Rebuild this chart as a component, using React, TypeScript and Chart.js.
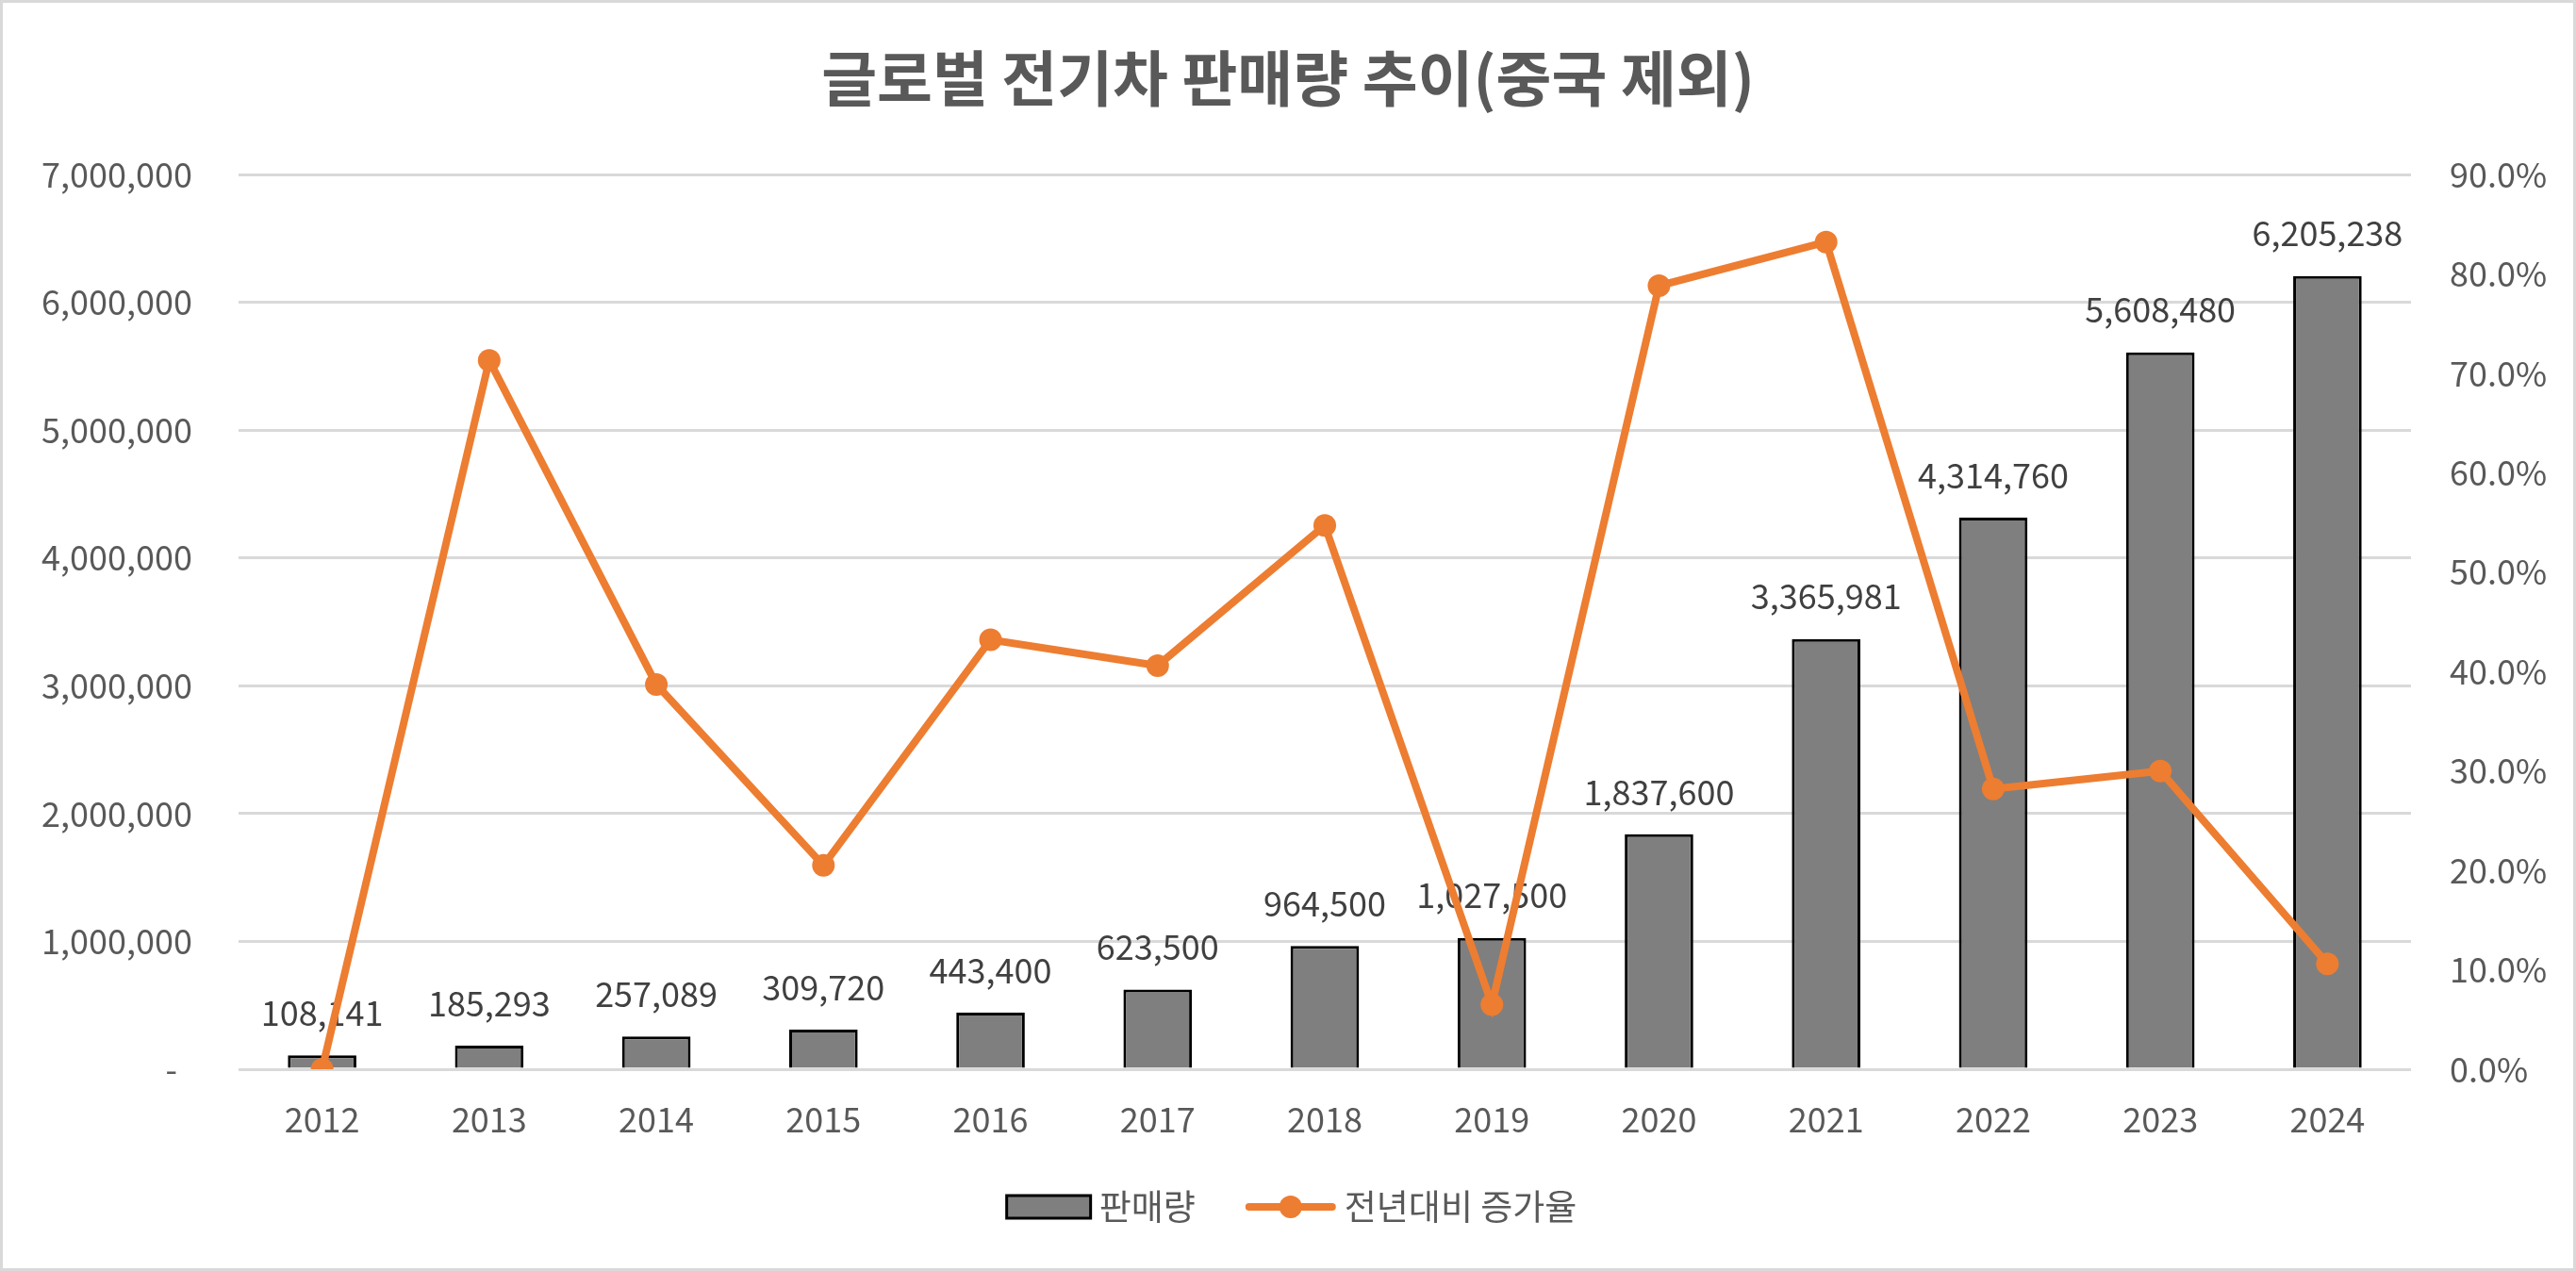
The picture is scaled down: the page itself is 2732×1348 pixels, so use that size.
import React, { useEffect, useRef } from "react";
import { Chart, registerables } from "chart.js";

Chart.register(...registerables);

const TITLE = "글로벌 전기차 판매량 추이(중국 제외)";
const YEARS = ["2012", "2013", "2014", "2015", "2016", "2017", "2018", "2019", "2020", "2021", "2022", "2023", "2024"];
const SALES = [108141, 185293, 257089, 309720, 443400, 623500, 964500, 1027500, 1837600, 3365981, 4314760, 5608480, 6205238];
const GROWTH = [0.0, 0.713, 0.387, 0.205, 0.432, 0.406, 0.547, 0.065, 0.788, 0.832, 0.282, 0.3, 0.106];
const SALES_LABEL = "판매량";
const GROWTH_LABEL = "전년대비 증가율";
const LEFT_MAX = 7000000;
const LEFT_STEP = 1000000;
const RIGHT_MAX = 0.9;
const RIGHT_STEP = 0.1;

const FONT = "'Noto Sans CJK KR', 'Noto Sans', sans-serif";
const TEXT = "#595959";
const LABEL_TEXT = "#404040";
const BAR_FILL = "#7f7f7f";
const ORANGE = "#ED7D31";
const GRID = "#d9d9d9";

const titlePlugin = {
  id: "customTitle",
  afterDraw(chart: any) {
    const ctx = chart.ctx;
    ctx.save();
    ctx.font = `bold 64px ${FONT}`;
    ctx.fillStyle = TEXT;
    ctx.textAlign = "center";
    ctx.textBaseline = "middle";
    ctx.fillText(TITLE, chart.width / 2, 80);
    ctx.restore();
  },
};

const dataLabelPlugin = {
  id: "barLabels",
  afterDatasetDraw(chart: any, args: any) {
    if (args.index !== 0) return;
    const ctx = chart.ctx;
    const values = chart.data.datasets[0].data as number[];
    ctx.save();
    ctx.font = `36px ${FONT}`;
    ctx.fillStyle = LABEL_TEXT;
    ctx.textAlign = "center";
    ctx.textBaseline = "middle";
    args.meta.data.forEach((bar: any, i: number) => {
      ctx.fillText(values[i].toLocaleString("en-US"), bar.x, bar.y - 45);
    });
    ctx.restore();
  },
};

const legendPlugin = {
  id: "customLegend",
  afterDraw(chart: any) {
    const ctx = chart.ctx;
    const ds = chart.data.datasets;
    const cy = 1277;
    ctx.save();
    ctx.font = `37px ${FONT}`;
    const boxW = 89;
    const boxH = 24;
    const lineW = 96;
    const gapText = 9;
    const gapItems = 53;
    const t1 = ctx.measureText(ds[0].label).width;
    const t2 = ctx.measureText(ds[1].label).width;
    const total = boxW + gapText + t1 + gapItems + lineW + gapText + t2;
    let x = chart.width / 2 - total / 2 + 4;
    // bar item
    ctx.fillStyle = BAR_FILL;
    ctx.fillRect(x, cy - boxH / 2, boxW, boxH);
    ctx.strokeStyle = "#000";
    ctx.lineWidth = 3;
    ctx.strokeRect(x, cy - boxH / 2, boxW, boxH);
    x += boxW + gapText;
    ctx.fillStyle = TEXT;
    ctx.textAlign = "left";
    ctx.textBaseline = "middle";
    ctx.fillText(ds[0].label, x, cy);
    x += t1 + gapItems;
    // line item
    ctx.strokeStyle = ORANGE;
    ctx.lineWidth = 8;
    ctx.lineCap = "round";
    ctx.beginPath();
    ctx.moveTo(x + 4, cy);
    ctx.lineTo(x + lineW - 4, cy);
    ctx.stroke();
    ctx.fillStyle = ORANGE;
    ctx.beginPath();
    ctx.arc(x + lineW / 2, cy, 12, 0, Math.PI * 2);
    ctx.fill();
    x += lineW + gapText;
    ctx.fillStyle = TEXT;
    ctx.fillText(ds[1].label, x, cy);
    ctx.restore();
  },
};

function ChartView() {
  const canvasRef = useRef<HTMLCanvasElement | null>(null);

  useEffect(() => {
    const canvas = canvasRef.current;
    if (!canvas) return;
    const chart = new Chart(canvas, {
      type: "bar",
      data: {
        labels: YEARS,
        datasets: [
          {
            type: "bar",
            label: SALES_LABEL,
            data: SALES,
            backgroundColor: BAR_FILL,
            borderColor: "#000000",
            borderWidth: 3,
            barPercentage: 0.41,
            categoryPercentage: 1,
            yAxisID: "y",
            order: 1,
          } as any,
          {
            type: "line",
            label: GROWTH_LABEL,
            data: GROWTH,
            borderColor: ORANGE,
            backgroundColor: ORANGE,
            borderWidth: 8,
            pointRadius: 12,
            pointBorderWidth: 0,
            pointBackgroundColor: ORANGE,
            tension: 0,
            yAxisID: "y1",
            order: 0,
          } as any,
        ],
      },
      options: {
        animation: false,
        responsive: true,
        maintainAspectRatio: false,
        layout: { padding: { top: 182, left: 0, right: 0, bottom: 0 } },
        plugins: {
          legend: { display: false },
          title: { display: false },
          tooltip: { enabled: false },
        },
        scales: {
          x: {
            type: "category",
            offset: true,
            grid: { display: false, drawTicks: false },
            border: { display: false },
            ticks: {
              color: TEXT,
              font: { family: FONT, size: 36 },
              padding: 32,
              maxRotation: 0,
            },
            afterFit(scale: any) {
              scale.height = 211;
            },
          },
          y: {
            type: "linear",
            position: "left",
            min: 0,
            max: LEFT_MAX,
            grid: { color: GRID, lineWidth: 3, drawTicks: false },
            border: { display: false },
            ticks: {
              stepSize: LEFT_STEP,
              color: TEXT,
              font: { family: FONT, size: 36 },
              padding: 49,
              callback: (v: any) => (Number(v) === 0 ? "-  " : Number(v).toLocaleString("en-US")),
            },
            afterFit(scale: any) {
              scale.width = 250;
            },
          },
          y1: {
            type: "linear",
            position: "right",
            min: 0,
            max: RIGHT_MAX,
            grid: { display: false, drawTicks: false },
            border: { display: false },
            ticks: {
              stepSize: RIGHT_STEP,
              color: TEXT,
              font: { family: FONT, size: 36 },
              padding: 41,
              callback: (v: any) => (Number(v) * 100).toFixed(1) + "%",
            },
            afterFit(scale: any) {
              scale.width = 172;
            },
          },
        },
      } as any,
      plugins: [titlePlugin, dataLabelPlugin, legendPlugin],
    });
    return () => {
      chart.destroy();
    };
  }, []);

  return <canvas ref={canvasRef} />;
}

export default function App() {
  return (
    <div
      style={{
        position: "fixed",
        left: 0,
        top: 0,
        width: 2732,
        height: 1348,
        boxSizing: "border-box",
        border: "3px solid #d9d9d9",
        background: "#ffffff",
      }}
    >
      <div style={{ position: "relative", width: 2726, height: 1342 }}>
        <ChartView />
      </div>
    </div>
  );
}
